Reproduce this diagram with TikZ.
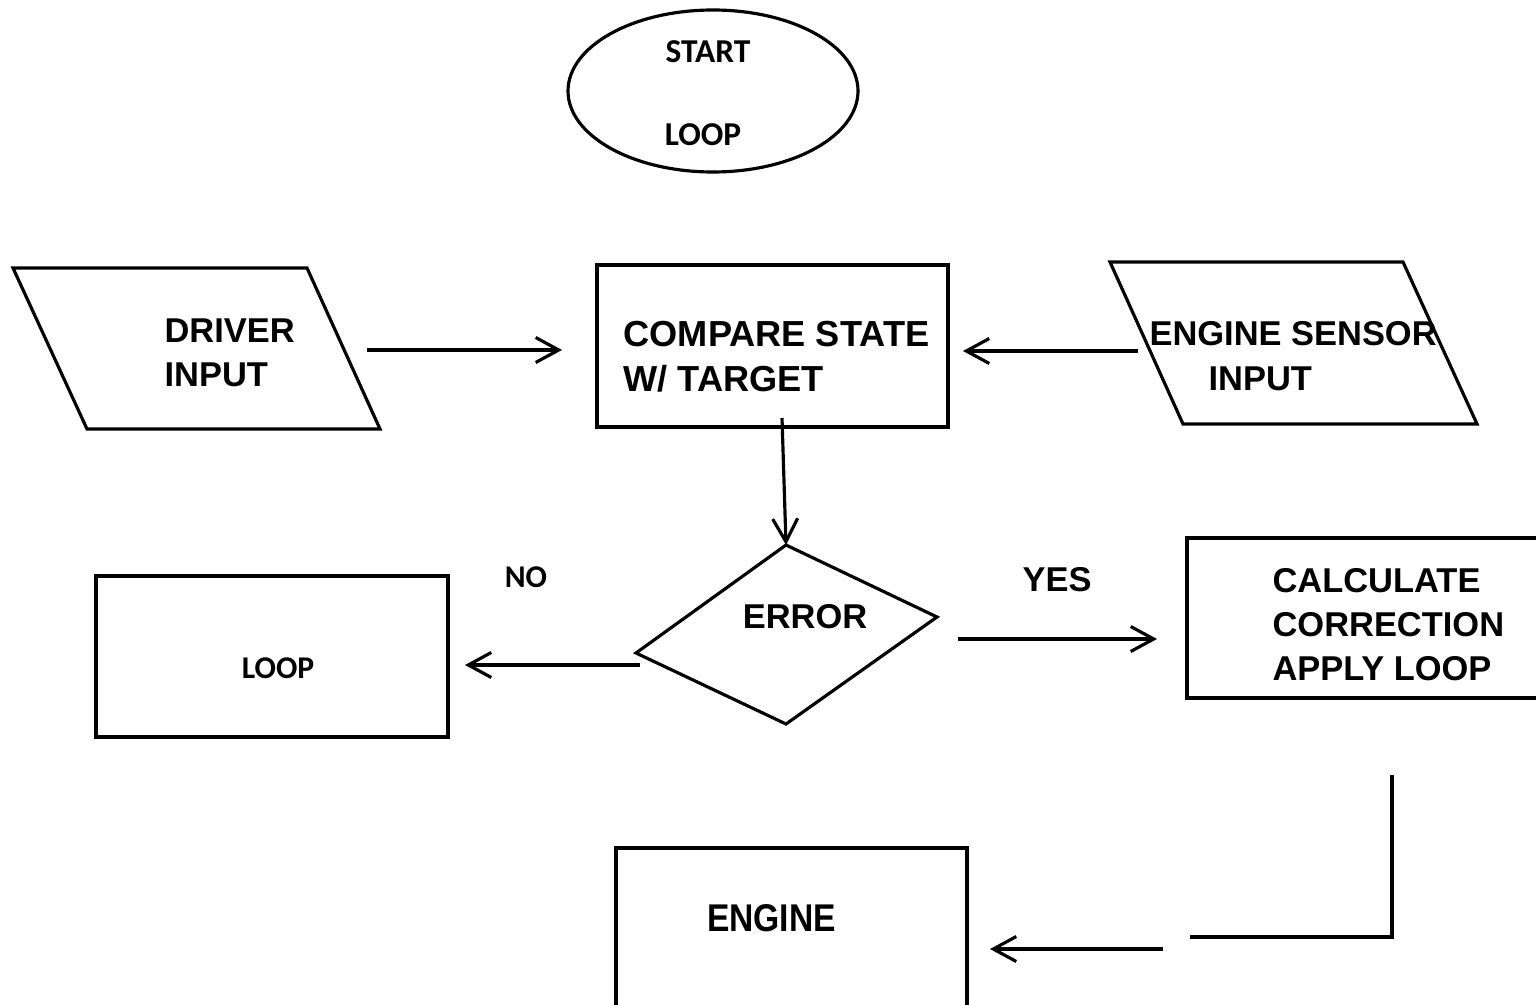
\documentclass[tikz,border=0pt]{standalone}
\usepackage{fontspec}
\setmainfont{Liberation Sans}
\newfontfamily\carlito{Carlito}
\newfontfamily\narrowsans[FakeStretch=0.87]{Liberation Sans}
\usetikzlibrary{arrows.meta}

\begin{document}
\begin{tikzpicture}[
    line width=0.9pt,
    txt/.style={inner sep=0pt, align=left, font=\bfseries\fontsize{9.8}{12.5}\selectfont},
    smalltxt/.style={inner sep=0pt, font=\carlito\bfseries\fontsize{9}{11}\selectfont},
    arr/.style={-{Straight Barb[length=2.3mm, width=2.5mm]}}]
    \useasboundingbox (0,0) rectangle (15.36,-10.05);
    \clip (0,0) rectangle (15.36,-10.05);
    % Inicio (elipse)
    \draw (7.13,-0.91) ellipse (1.45 and 0.81);
    \node[smalltxt, font=\carlito\bfseries\fontsize{9.5}{11}\selectfont] (start) at (7.08,-0.52) {START};
    \node[smalltxt, font=\carlito\bfseries\fontsize{9.5}{11}\selectfont] (startloop) at (7.03,-1.35) {LOOP};
    % Entrada do motorista
    \draw (0.13,-2.68) -- (3.07,-2.68) -- (3.80,-4.29) -- (0.87,-4.29) -- cycle;
    \node[txt, anchor=north west] (driver) at (1.63,-3.17) {DRIVER\\INPUT};
    % Comparacao
    \draw (5.97,-2.65) rectangle (9.48,-4.27);
    \node[txt, anchor=north west, font=\bfseries\fontsize{10.3}{12.6}\selectfont] (compare) at (6.22,-3.20) {COMPARE STATE\\W/ TARGET};
    % Sensor do motor
    \draw (11.10,-2.62) -- (14.03,-2.62) -- (14.77,-4.24) -- (11.83,-4.24) -- cycle;
    \node[txt, anchor=north west] (sensor) at (11.48,-3.20) {ENGINE SENSOR};
    \node[txt, anchor=north west] (sensorin) at (12.07,-3.65) {INPUT};
    % Decisao (losango)
    \draw (7.86,-5.45) -- (9.37,-6.17) -- (7.86,-7.24) -- (6.36,-6.53) -- cycle;
    \node[txt] (error) at (8.05,-6.17) {ERROR};
    \node[txt] (yes) at (10.57,-5.80) {YES};
    \node[smalltxt] (no) at (5.26,-5.77) {NO};
    % Loop
    \draw (0.96,-5.76) rectangle (4.48,-7.37);
    \node[smalltxt] (loop) at (2.78,-6.685) {LOOP};
    % Correcao
    \draw (11.87,-5.38) rectangle (15.70,-6.98);
    \node[txt, anchor=north west] (calc) at (12.71,-5.67) {CALCULATE\\CORRECTION\\APPLY LOOP};
    % Motor
    \draw (6.16,-10.40) |- (9.67,-8.48) -- (9.67,-10.40);
    \node[inner sep=0pt, font=\narrowsans\bfseries\fontsize{11}{12}\selectfont] (engine) at (7.715,-9.185) {ENGINE};
    % Setas
    \coordinate (d1) at (3.67,-3.50);
    \coordinate (d2) at (5.62,-3.50);
    \coordinate (s1) at (11.38,-3.51);
    \coordinate (s2) at (9.63,-3.51);
    \coordinate (c1) at (7.82,-4.18);
    \coordinate (c2) at (7.86,-5.45);
    \coordinate (n1) at (6.40,-6.65);
    \coordinate (n2) at (4.65,-6.65);
    \coordinate (y1) at (9.58,-6.39);
    \coordinate (y2) at (11.57,-6.39);
    \coordinate (r1) at (13.92,-7.75);
    \coordinate (r2) at (11.90,-9.37);
    \coordinate (e1) at (11.63,-9.49);
    \coordinate (e2) at (9.90,-9.49);
    \draw[arr] (d1) -- (d2);
    \draw[arr] (s1) -- (s2);
    \draw[arr] (c1) -- (c2);
    \draw[arr] (n1) -- (n2);
    \draw[arr] (y1) -- (y2);
    \draw (r1) |- (r2);
    \draw[arr] (e1) -- (e2);
\end{tikzpicture}
\end{document}
